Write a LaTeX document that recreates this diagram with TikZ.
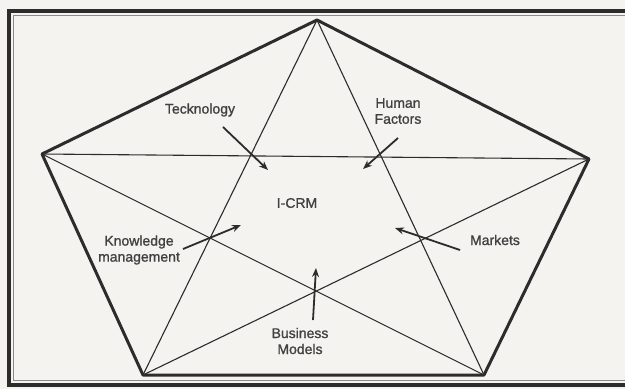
\documentclass[tikz,border=0pt]{standalone}
\usepackage{fontspec}
\setmainfont{Liberation Sans}[FakeBold=1.2]
\usetikzlibrary{arrows.meta}
\definecolor{ink}{HTML}{2C2C2C}
\definecolor{paper}{HTML}{F5F3F0}
\definecolor{frameinner}{HTML}{8A8A8A}
\begin{document}
\begin{tikzpicture}[x=1pt,y=-1pt,
  edge/.style={draw=ink,line width=3pt,line join=round},
  diag/.style={draw=ink,line width=1.1pt},
  pointer/.style={draw=ink,line width=1.8pt,-{Stealth[length=9pt,width=7pt]}},
  lbl/.style={font=\fontsize{14}{16}\selectfont,text=ink!90,align=center,inner sep=0pt}]
\useasboundingbox (0,0) rectangle (625,389);
\fill[paper] (0,0) rectangle (625,389);
% frame
\draw[ink,line width=3.5pt] (640,11) -- (9,11) -- (9,385) -- (640,385);
\draw[frameinner,line width=1pt] (640,15.5) -- (13.5,15.5) -- (13.5,380.5) -- (640,380.5);
% pentagon vertices
\coordinate (T) at (317,20);
\coordinate (L) at (42,154);
\coordinate (R) at (589,159);
\coordinate (BL) at (143,375);
\coordinate (BR) at (484,375);
% star diagonals
\draw[diag] (T) -- (BL);
\draw[diag] (T) -- (BR);
\draw[diag] (L) -- (R);
\draw[diag] (L) -- (BR);
\draw[diag] (R) -- (BL);
% pentagon edges
\draw[edge] (T) -- (R) -- (BR) -- (BL) -- (L) -- cycle;
% labels
\node[lbl] (crm) at (297,203) {I-CRM};
\node[lbl] (tech) at (200,110) {Tecknology};
\node[lbl] (human) at (398,111) {Human\\Factors};
\node[lbl] (know) at (139,250) {Knowledge\\management};
\node[lbl] (bus) at (300,341) {Business\\Models};
\node[lbl] (mkt) at (495,240) {Markets};
% arrow ends
\coordinate (techA) at (223,127);
\coordinate (techB) at (268,170);
\coordinate (humA) at (398,138);
\coordinate (humB) at (363,169);
\coordinate (knA) at (183,249);
\coordinate (knB) at (241,225);
\coordinate (busA) at (313,320);
\coordinate (busB) at (316,268);
\coordinate (mkA) at (460,250);
\coordinate (mkB) at (395,228);
\draw[pointer] (techA) -- (techB);
\draw[pointer] (humA) -- (humB);
\draw[pointer] (knA) -- (knB);
\draw[pointer] (busA) -- (busB);
\draw[pointer] (mkA) -- (mkB);
\end{tikzpicture}
\end{document}
